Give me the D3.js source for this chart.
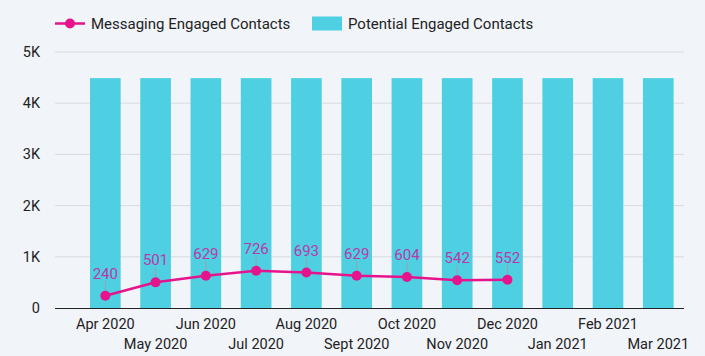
<!DOCTYPE html>
<html><head><meta charset="utf-8">
<script src="https://cdn.jsdelivr.net/npm/d3@7"></script>
<style>
html,body{margin:0;padding:0;background:#f1f4f9;}
svg{display:block;font-family:Roboto, "Noto Sans", sans-serif;}
</style></head>
<body>
<svg id="chart" width="705" height="356"></svg>
<script>
const months = ["Apr 2020","May 2020","Jun 2020","Jul 2020","Aug 2020","Sept 2020","Oct 2020","Nov 2020","Dec 2020","Jan 2021","Feb 2021","Mar 2021"];
const potential = [4490,4490,4490,4490,4490,4490,4490,4490,4490,4490,4490,4490];
const messaging = [240,501,629,726,693,629,604,542,552];
const yTicks = [0,1000,2000,3000,4000,5000];
const yTickLabels = ["0","1K","2K","3K","4K","5K"];
const seriesNames = ["Messaging Engaged Contacts","Potential Engaged Contacts"];

const svg = d3.select("#chart");
const barColor = "#4fd0e2", lineColor = "#e6148c", labelColor = "#b83aa8";
const gridLeft = 55, gridRight = 684;

const x = d3.scaleBand().domain(months).range([80.2, 683.4]).paddingInner(0.39).paddingOuter(0.195);
const y = d3.scaleLinear().domain([0,5000]).range([308,52]);

// grid
svg.append("g").selectAll("line").data(yTicks.slice(1)).join("line")
  .attr("x1",gridLeft).attr("x2",gridRight)
  .attr("y1",d=>y(d)).attr("y2",d=>y(d))
  .attr("stroke","#d9dbdf").attr("stroke-width",1);

// y labels
svg.append("g").selectAll("text").data(yTicks).join("text")
  .attr("x",40).attr("y",d=>y(d)).attr("dy","0.35em")
  .attr("text-anchor","end").attr("font-size",14.5).attr("fill","#222")
  .text((d,i)=>yTickLabels[i]);

// bars
svg.append("g").selectAll("rect").data(potential).join("rect")
  .attr("x",(d,i)=>x(months[i])).attr("width",x.bandwidth())
  .attr("y",d=>y(d)).attr("height",d=>y(0)-y(d))
  .attr("fill",barColor);

// axis line
svg.append("line").attr("x1",gridLeft).attr("x2",gridRight)
  .attr("y1",y(0)+0.5).attr("y2",y(0)+0.5).attr("stroke","#222").attr("stroke-width",1);

// x labels staggered
svg.append("g").selectAll("text").data(months).join("text")
  .attr("x",d=>x(d)+x.bandwidth()/2)
  .attr("y",(d,i)=> i%2===0 ? 329 : 349)
  .attr("text-anchor","middle").attr("font-size",14.5).attr("fill","#222")
  .text(d=>d);

// line
const cx = i => x(months[i]) + x.bandwidth()/2;
const line = d3.line().x((d,i)=>cx(i)).y(d=>y(d));
svg.append("path").datum(messaging).attr("d",line)
  .attr("fill","none").attr("stroke",lineColor).attr("stroke-width",2.5);

// leader lines
svg.append("g").selectAll("line").data(messaging).join("line")
  .attr("x1",(d,i)=>cx(i)).attr("x2",(d,i)=>cx(i))
  .attr("y1",d=>y(d)-5).attr("y2",d=>y(d)-15)
  .attr("stroke","#9aa0a6").attr("stroke-width",1);

svg.append("g").selectAll("circle").data(messaging).join("circle")
  .attr("cx",(d,i)=>cx(i)).attr("cy",d=>y(d)).attr("r",5)
  .attr("fill",lineColor);

svg.append("g").selectAll("text").data(messaging).join("text")
  .attr("x",(d,i)=>cx(i)).attr("y",d=>y(d)-17)
  .attr("text-anchor","middle").attr("font-size",15).attr("fill",labelColor)
  .text(d=>d);

// legend
const lg = svg.append("g");
lg.append("line").attr("x1",55).attr("x2",85).attr("y1",23.5).attr("y2",23.5)
  .attr("stroke",lineColor).attr("stroke-width",2.5);
lg.append("circle").attr("cx",70).attr("cy",23.5).attr("r",5).attr("fill",lineColor);
lg.append("text").attr("x",91).attr("y",23.5).attr("dy","0.35em").attr("font-size",15).attr("fill","#222").text(seriesNames[0]);
lg.append("rect").attr("x",312).attr("y",16.5).attr("width",30).attr("height",14).attr("fill",barColor);
lg.append("text").attr("x",348).attr("y",23.5).attr("dy","0.35em").attr("font-size",15).attr("fill","#222").text(seriesNames[1]);
</script>
</body></html>
